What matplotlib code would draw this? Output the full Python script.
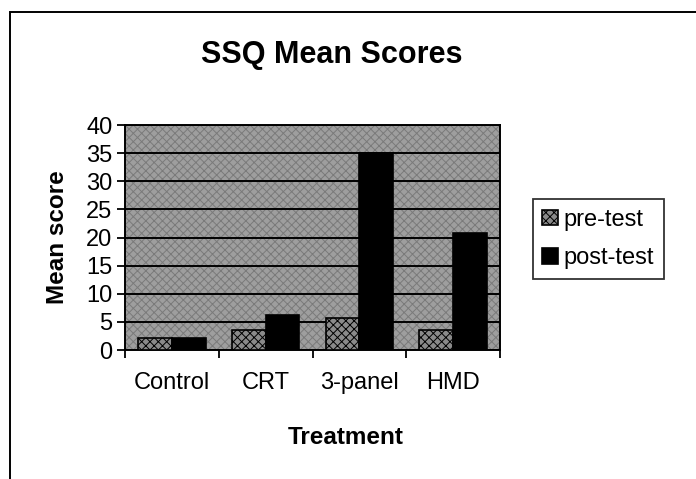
import numpy as np
import matplotlib
matplotlib.use("Agg")
from matplotlib import pyplot as plt
from matplotlib.patches import Rectangle

plt.rcParams['font.family'] = ['Liberation Sans', 'DejaVu Sans']
plt.rcParams['hatch.linewidth'] = 0.7

treatments = ["Control", "CRT", "3-panel", "HMD"]
pre_test = [2.2, 3.5, 5.7, 3.6]
post_test = [2.2, 6.2, 35.0, 20.8]
y_ticks = [0, 5, 10, 15, 20, 25, 30, 35, 40]

fig = plt.figure(figsize=(6.96, 4.79), dpi=100)
ax = fig.add_axes([0.1796, 0.2693, 0.5388, 0.4697])

# outer frame of the chart
fig.patches.append(Rectangle((10 / 696, -0.01), 1.0, 1.01 - 12 / 479, transform=fig.transFigure,
                             fill=False, edgecolor='black', linewidth=1.4))

ax.set_facecolor('#9e9e9e')
ax.add_patch(Rectangle((0, 0), 1, 1, transform=ax.transAxes, facecolor='none',
                       hatch='xxxx', edgecolor='#7a7a7a', linewidth=0, zorder=0.5))

xs = np.arange(len(treatments))
w = 0.36
ax.bar(xs - w / 2, pre_test, w, color='#8a8a8a', hatch='xxxx', edgecolor='black',
       linewidth=1.2, label='pre-test', zorder=3)
ax.bar(xs + w / 2, post_test, w, color='black', edgecolor='black',
       linewidth=1.2, label='post-test', zorder=3)

ax.set_xlim(-0.5, 3.5)
ax.set_ylim(0, 40)
ax.set_yticks(y_ticks)
ax.yaxis.grid(True, color='black', linewidth=1.4)
ax.set_axisbelow(True)

ax.set_xticks(xs)
ax.set_xticklabels(treatments, fontsize=17)
ax.set_xticks(np.arange(-0.5, 4, 1), minor=True)
ax.tick_params(axis='x', which='major', length=0, pad=16)
ax.tick_params(axis='x', which='minor', length=6, width=1.3, direction='out')
ax.tick_params(axis='y', labelsize=17, length=6, width=1.3, direction='out', pad=3)

for s in ax.spines.values():
    s.set_linewidth(1.4)

fig.text(332 / 696, 1 - 55 / 479, "SSQ Mean Scores", fontsize=22, fontweight='bold',
         ha='center', va='center')
ax.set_ylabel("Mean score", fontsize=17.5, fontweight='bold')
ax.yaxis.set_label_coords(-0.179, 0.5)
ax.yaxis.label.set_va('center')
ax.set_xlabel("Treatment", fontsize=17.5, fontweight='bold')
ax.xaxis.set_label_coords(0.589, -0.391)
ax.xaxis.label.set_va('center')

leg = ax.legend(loc='center left', bbox_to_anchor=(1.088, 0.493), fontsize=17,
                frameon=True, fancybox=False, edgecolor='black',
                handlelength=0.65, handleheight=0.65, handletextpad=0.25,
                borderpad=0.4, borderaxespad=0, labelspacing=0.7)
leg.get_frame().set_linewidth(1.3)

fig.savefig("out.png", dpi=100, facecolor='white')
